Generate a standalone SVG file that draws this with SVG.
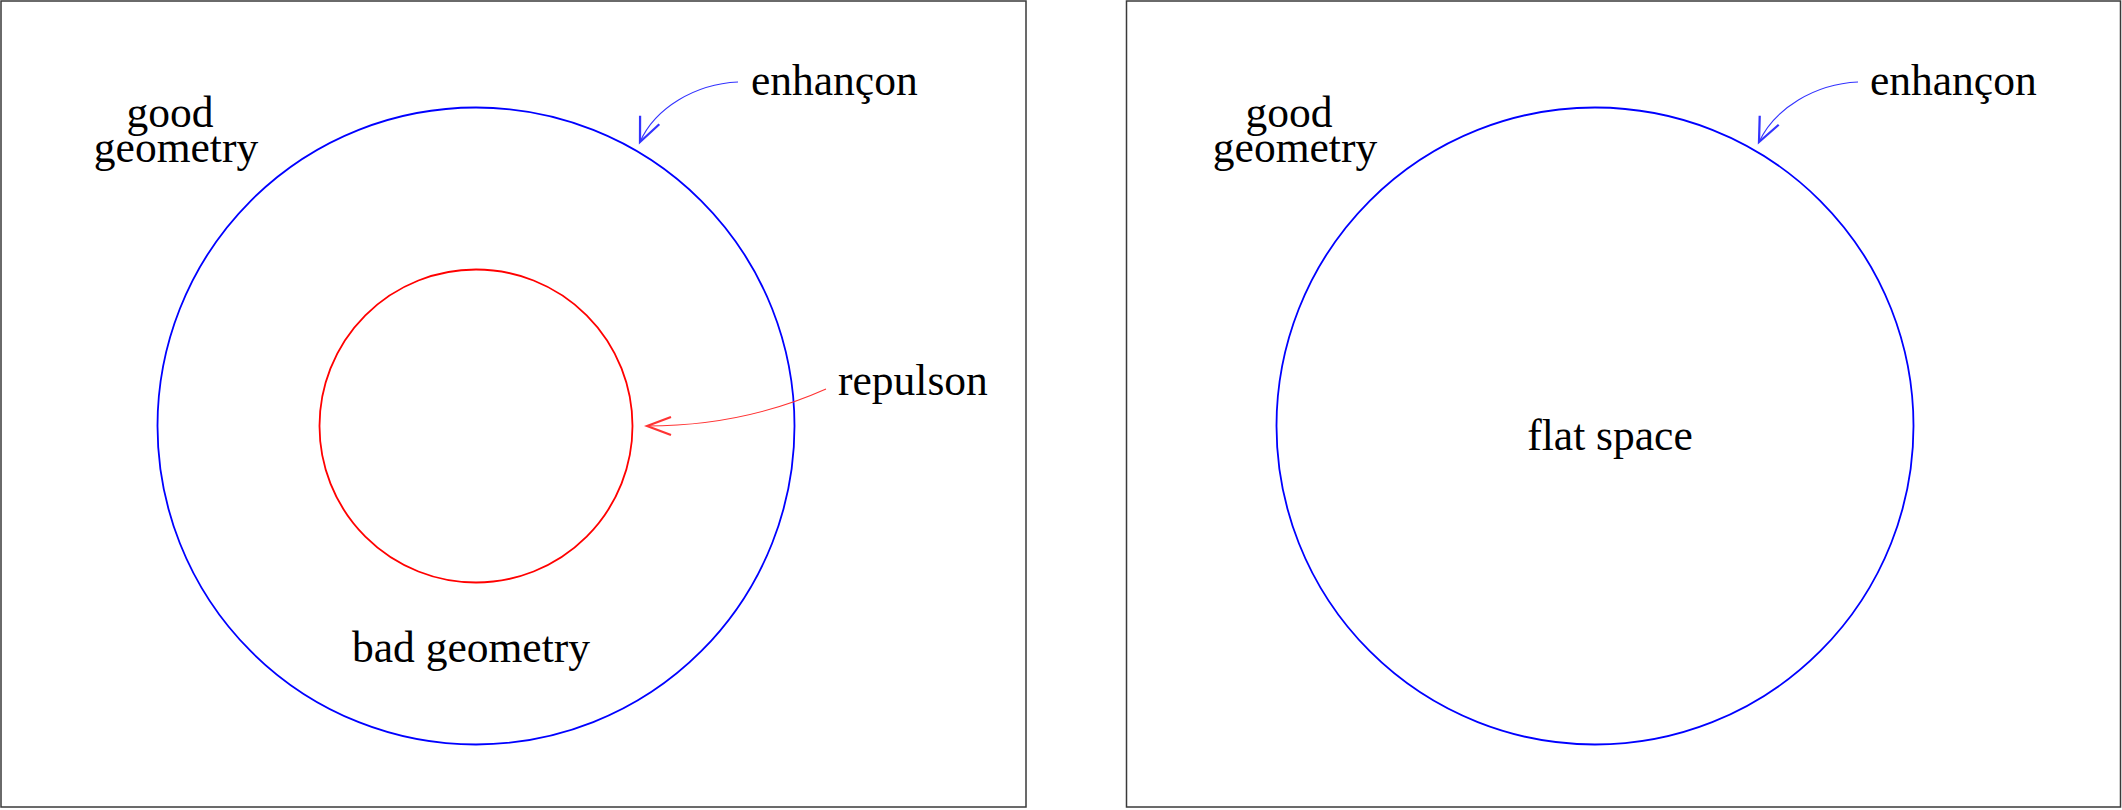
<svg xmlns="http://www.w3.org/2000/svg" width="2122" height="810" viewBox="0 0 2122 810">
<defs>
<style>
.frame{fill:none;stroke:#3a3a3a;stroke-width:1.5}
.lbl{font-family:"Liberation Serif","Times New Roman",serif;font-size:43.5px;fill:#000}
.mid{text-anchor:middle}
.blue{fill:none;stroke:#0000ff;stroke-width:1.8}
.red{fill:none;stroke:#ff0000;stroke-width:1.8}
.barr{fill:none;stroke:#3333ff;stroke-width:1.1}
.rarr{fill:none;stroke:#ff3333;stroke-width:1.1}
</style>
<marker id="mb" markerUnits="userSpaceOnUse" markerWidth="30" markerHeight="30" refX="18" refY="10" orient="auto" viewBox="0 0 20 20">
<path d="M2,3 L18,10 L2,17" fill="none" stroke="#3333ff" stroke-width="1.5"/>
</marker>
<marker id="mr" markerUnits="userSpaceOnUse" markerWidth="30" markerHeight="30" refX="18" refY="10" orient="auto" viewBox="0 0 20 20">
<path d="M2,4 L18,10 L2,16" fill="none" stroke="#ff3333" stroke-width="1.5"/>
</marker>
</defs>
<rect x="0" y="0" width="2122" height="810" fill="#fff"/>
<g id="panel-left">
<rect class="frame" x="1" y="1" width="1025" height="806"/>
<g id="enhancon-circle-left"><circle class="blue" cx="476" cy="426" r="318.5"/></g>
<g id="repulson-circle"><circle class="red" cx="476" cy="426" r="156.5"/></g>
<g id="label-good-left"><text class="lbl mid"><tspan x="170" y="127">good</tspan><tspan x="176" y="162">geometry</tspan></text></g>
<g id="label-enhancon-left"><text class="lbl" x="751" y="95">enhançon</text></g>
<g id="label-repulson"><text class="lbl" x="838" y="395">repulson</text></g>
<g id="label-bad"><text class="lbl mid" x="471" y="662">bad geometry</text></g>
</g>
<g id="panel-right">
<rect class="frame" x="1126.5" y="1" width="994" height="806"/>
<g id="enhancon-circle-right"><circle class="blue" cx="1595" cy="426" r="318.5"/></g>
<g id="label-good-right"><text class="lbl mid"><tspan x="1289" y="127">good</tspan><tspan x="1295" y="162">geometry</tspan></text></g>
<g id="label-enhancon-right"><text class="lbl" x="1870" y="95">enhançon</text></g>
<g id="label-flat"><text class="lbl mid" x="1610" y="450">flat space</text></g>
</g>
<g id="connectors">
<path class="barr" d="M738,82 C695,84 655,108 640,142" marker-end="url(#mb)"/>
<path class="rarr" d="M826,389 C770,414 710,426 647,426" marker-end="url(#mr)"/>
<path class="barr" d="M1858,82 C1815,84 1775,108 1759,142" marker-end="url(#mb)"/>
</g>
</svg>
